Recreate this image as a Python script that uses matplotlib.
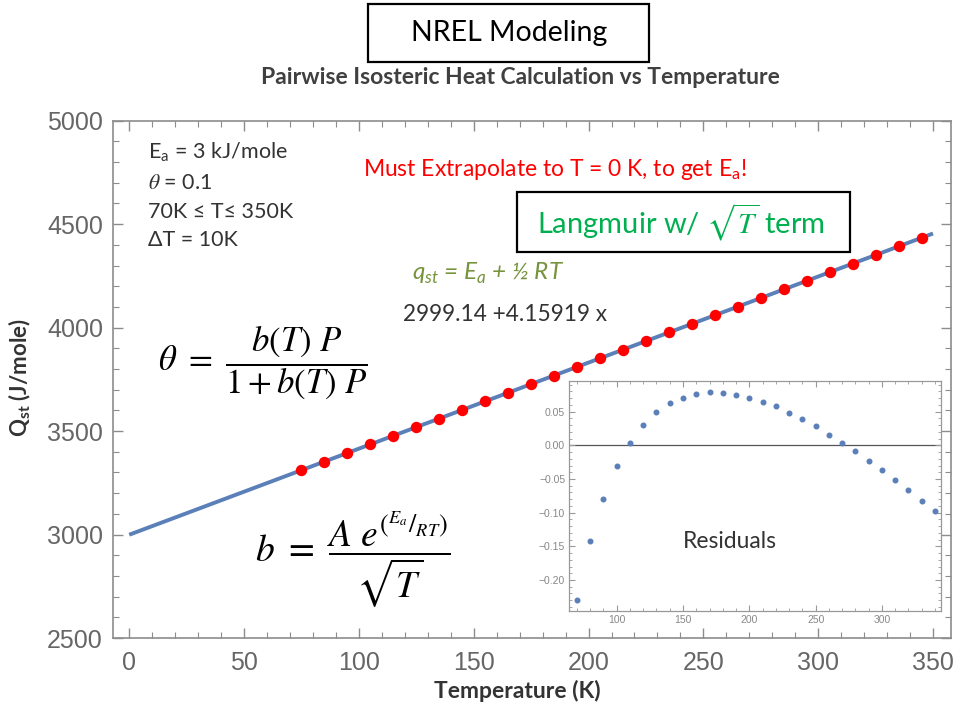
import matplotlib
matplotlib.use('Agg')
import matplotlib.pyplot as plt
from matplotlib.patches import Rectangle
from matplotlib.ticker import MultipleLocator, FuncFormatter

# pairwise isosteric heat (midpoint temperatures)
temp_k = [75, 85, 95, 105, 115, 125, 135, 145, 155, 165, 175, 185, 195, 205,
          215, 225, 235, 245, 255, 265, 275, 285, 295, 305, 315, 325, 335, 345]
q_st = [3311.1, 3352.7, 3394.3, 3435.8, 3477.4, 3519.0, 3560.6, 3602.2,
        3643.8, 3685.4, 3727.0, 3768.6, 3810.2, 3851.8, 3893.4, 3935.0,
        3976.5, 4018.1, 4059.7, 4101.3, 4142.9, 4184.5, 4226.1, 4267.7,
        4309.3, 4350.9, 4392.5, 4434.1]

# linear fit line
fit_t = [0, 350]
fit_q = [2999.1, 4454.9]

# residuals shown in the inset
resid_t = [70, 80, 90, 100, 110, 120, 130, 140, 150, 160, 170, 180, 190, 200,
           210, 220, 230, 240, 250, 260, 270, 280, 290, 300, 310, 320, 330, 340]
resid = [-0.229, -0.142, -0.079, -0.031, 0.004, 0.030, 0.050, 0.063, 0.071,
         0.076, 0.079, 0.078, 0.075, 0.071, 0.064, 0.058, 0.048, 0.039, 0.028,
         0.016, 0.004, -0.009, -0.023, -0.037, -0.052, -0.067, -0.083, -0.098]

W, H = 961, 707
TXT = ['Lato', 'DejaVu Sans']
TICKF = ['Liberation Sans Narrow', 'Liberation Sans', 'DejaVu Sans']
BLUE = '#5b7fb8'


def fx(x):
    return x / W


def fy(y):
    return 1 - y / H


fig = plt.figure(figsize=(W / 100, H / 100), dpi=100)
fig.patch.set_facecolor('white')

ax = fig.add_axes([fx(112.7), fy(638), (950.7 - 112.7) / W, (638 - 120.7) / H])
ax.plot(fit_t, fit_q, color=BLUE, lw=2.8, solid_capstyle='butt', zorder=2)
ax.plot(temp_k, q_st, 'o', color='red', markersize=7.2, zorder=3)
ax.set_xlim(-7.2, 357.7)
ax.set_ylim(2500, 5000)
ax.xaxis.set_major_locator(MultipleLocator(50))
ax.xaxis.set_minor_locator(MultipleLocator(10))
ax.yaxis.set_major_locator(MultipleLocator(500))
ax.yaxis.set_minor_locator(MultipleLocator(100))
ax.tick_params(which='both', direction='in', top=True, right=True,
               color='#8c8c8c', labelcolor='#666666', labelsize=18)
ax.tick_params(which='major', length=7, width=1)
ax.tick_params(which='minor', length=4, width=0.8)
ax.tick_params(axis='x', pad=9)
ax.tick_params(axis='y', pad=7)
for lab in ax.get_xticklabels() + ax.get_yticklabels():
    lab.set_family(TICKF)
for s in ax.spines.values():
    s.set_color('#8c8c8c')
    s.set_linewidth(1.2)

# axis labels
fig.text(fx(517), fy(691), 'Temperature (K)', family=TXT, fontweight='bold',
         fontsize=16.5, color='#333333', ha='center', va='center')
fig.text(fx(20), fy(378), r'Q$_{\mathregular{st}}$ (J/mole)', family=TXT,
         fontweight='bold', fontsize=16, color='#333333', rotation=90,
         ha='center', va='center')

# titles
fig.add_artist(Rectangle((fx(368), fy(61.7)), 281 / W, 57.7 / H,
                         transform=fig.transFigure, facecolor='white',
                         edgecolor='black', lw=1.6))
fig.text(fx(509), fy(33), 'NREL Modeling', family=TXT, fontsize=20.5,
         color='black', ha='center', va='center')
fig.text(fx(520), fy(77), 'Pairwise Isosteric Heat Calculation vs Temperature',
         family=TXT, fontweight='bold', fontsize=16.5, color='#404040',
         ha='center', va='center')

# annotations on the plot
info = [r'E$_{\mathregular{a}}$ = 3 kJ/mole', r'$\theta$ = 0.1',
        '70K ≤ T≤ 350K', 'ΔT = 10K']
for txt, yy in zip(info, [151.7, 183, 212, 240]):
    fig.text(fx(148), fy(yy), txt, family=TXT, fontsize=15.5, color='#333333',
             ha='left', va='center', math_fontfamily='stix')

fig.text(fx(363), fy(170),
         r'Must Extrapolate to T = 0 K, to get E$_{\mathregular{a}}$!',
         family=TXT, fontsize=16.5, color='#ff0000', ha='left', va='center')

fig.add_artist(Rectangle((fx(517.3), fy(251.7)), 332.7 / W, 60 / H,
                         transform=fig.transFigure, facecolor='white',
                         edgecolor='black', lw=1.6, zorder=5))
fig.text(fx(681), fy(222), r'Langmuir w/ $\sqrt{T}$ term', family=TXT,
         fontsize=21, color='#00b050', ha='center', va='center',
         math_fontfamily='stix', zorder=6)

fig.text(fx(412), fy(273),
         r'q$_{\mathregular{st}}$ = E$_{\mathregular{a}}$ + ½ RT',
         family=TXT, fontsize=17.5, style='italic', color='#77933c',
         ha='left', va='center')
fig.text(fx(403), fy(315), '2999.14 +4.15919 x', family=TXT, fontsize=16.3,
         color='#333333', ha='left', va='center')

fig.text(fx(158), fy(363), r'$\theta\ =\ \dfrac{b(T)\ P}{1 + b(T)\ P}$',
         math_fontfamily='stix', fontsize=25, color='black',
         ha='left', va='center')
fig.text(fx(255), fy(560),
         r'$b\ =\ \dfrac{A\ e^{\left({}^{E_a}/_{RT}\right)}}{\sqrt{T}}$',
         math_fontfamily='stix', fontsize=27, color='black',
         ha='left', va='center')

# residuals inset
ax2 = fig.add_axes([fx(569.3), fy(611), (941 - 569.3) / W, (611 - 381) / H])
ax2.set_facecolor('white')
ax2.axhline(0, color='#555555', lw=0.9, zorder=1)
ax2.plot(resid_t, resid, 'o', color=BLUE, markersize=3.3, zorder=2)
ax2.set_xlim(64.3, 344.5)
ax2.set_ylim(-0.246, 0.0955)
ax2.xaxis.set_major_locator(MultipleLocator(50))
ax2.xaxis.set_minor_locator(MultipleLocator(10))
ax2.yaxis.set_major_locator(MultipleLocator(0.05))
ax2.yaxis.set_minor_locator(MultipleLocator(0.01))
ax2.yaxis.set_major_formatter(FuncFormatter(
    lambda v, p: f'{v:.2f}'.replace('-', '\u2212') if abs(v) > 1e-9 else '0.00'))
ax2.tick_params(which='both', direction='in', top=True, right=True,
                color='#999999', labelcolor='#888888', labelsize=7.5)
ax2.tick_params(which='major', length=4, width=0.8, pad=3)
ax2.tick_params(which='minor', length=2, width=0.6)
for lab in ax2.get_xticklabels() + ax2.get_yticklabels():
    lab.set_family(TICKF)
for s in ax2.spines.values():
    s.set_color('#999999')
    s.set_linewidth(0.9)

fig.text(fx(730), fy(542), 'Residuals', family=TXT, fontsize=16.5,
         color='#333333', ha='center', va='center')

plt.savefig('out.png', dpi=100)
plt.close()
